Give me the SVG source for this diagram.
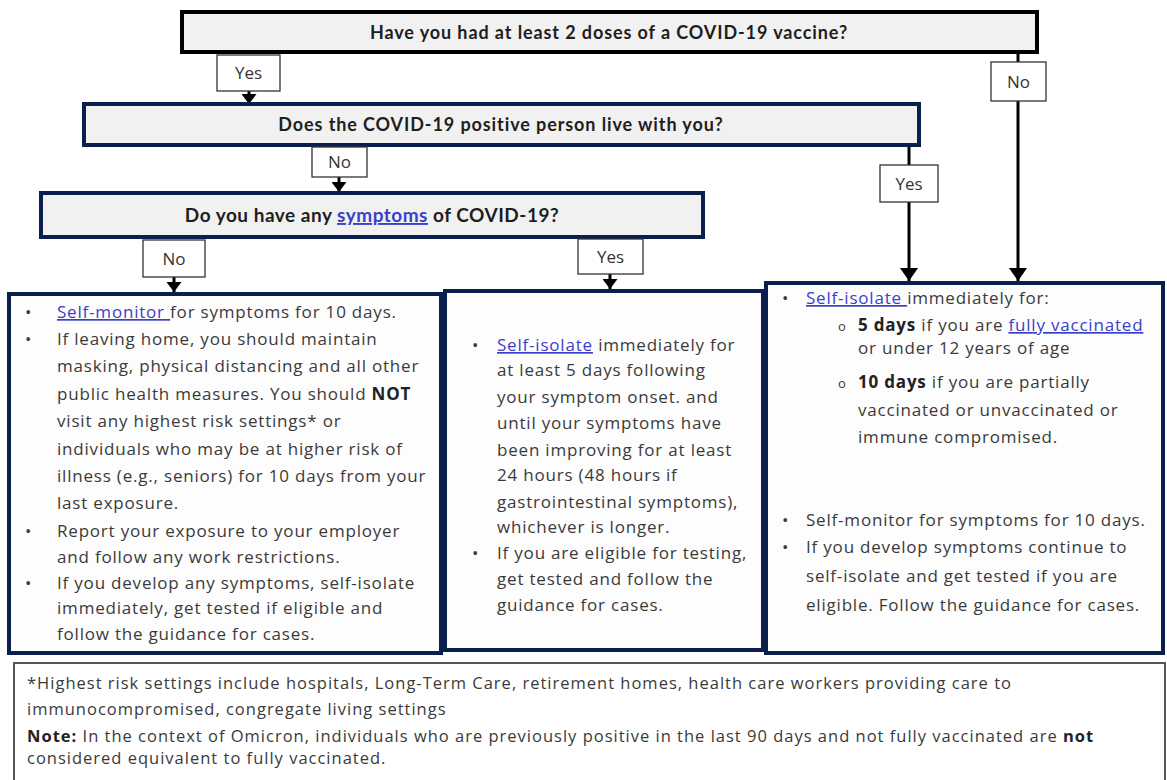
<svg xmlns="http://www.w3.org/2000/svg" width="1167" height="780" viewBox="0 0 1167 780">
<defs>
<style>
.q{fill:#f1f1f1;stroke:#0b1f4f;stroke-width:4}
.q1{fill:#f1f1f1;stroke:#000;stroke-width:4}
.qt{font-family:Lato,"Open Sans",sans-serif;font-weight:bold;font-size:18px;letter-spacing:0.9px;fill:#1e1e1e;text-anchor:middle}
.lab{fill:#fff;stroke:#333;stroke-width:1.3}
.lt{font-family:"Open Sans","Liberation Sans",sans-serif;font-size:17px;fill:#333;text-anchor:middle}
.res{fill:#fdfdfd;stroke:#0b1f4f;stroke-width:4}
.b{font-family:"Open Sans","Liberation Sans",sans-serif;font-size:17px;fill:#3a3a3a;letter-spacing:0.8px}
.f{font-family:"Open Sans","Liberation Sans",sans-serif;font-size:16.5px;fill:#3a3a3a;letter-spacing:1px}
.lk{fill:#3b40c8;text-decoration:underline}
.bd{font-weight:bold;fill:#222}
.ln{stroke:#000;stroke-width:3;fill:none}
</style>
<marker id="ah" markerUnits="userSpaceOnUse" markerWidth="14" markerHeight="18" refX="13" refY="9" orient="auto" viewBox="0 0 14 18">
<path d="M0,0 L13,9 L0,18 z" fill="#000"/>
</marker>
<marker id="ahs" markerUnits="userSpaceOnUse" markerWidth="11" markerHeight="15" refX="10" refY="7.5" orient="auto" viewBox="0 0 11 15">
<path d="M0,0 L10,7.5 L0,15 z" fill="#000"/>
</marker>
</defs>
<rect width="1167" height="780" fill="#fff"/>

<g id="connectors">
<line class="ln" x1="249" y1="91" x2="249" y2="104" marker-end="url(#ahs)"/>
<line class="ln" x1="1018" y1="52" x2="1018" y2="62"/>
<line class="ln" x1="1018" y1="101" x2="1018" y2="281" marker-end="url(#ah)"/>
<line class="ln" x1="339" y1="177" x2="339" y2="192" marker-end="url(#ahs)"/>
<line class="ln" x1="909" y1="145" x2="909" y2="165"/>
<line class="ln" x1="909" y1="202" x2="909" y2="281" marker-end="url(#ah)"/>
<line class="ln" x1="174" y1="277" x2="174" y2="292" marker-end="url(#ahs)"/>
<line class="ln" x1="610" y1="274" x2="610" y2="289" marker-end="url(#ahs)"/>
</g>

<g id="q1">
<rect class="q1" x="182" y="12" width="855" height="40"/>
<text class="qt" x="609" y="39">Have you had at least 2 doses of a COVID-19 vaccine?</text>
</g>
<g id="q2">
<rect class="q" x="84" y="104" width="835" height="41"/>
<text class="qt" x="501" y="131">Does the COVID-19 positive person live with you?</text>
</g>
<g id="q3">
<rect class="q" x="41" y="193" width="662" height="44"/>
<text class="qt" x="372" y="222" style="font-size:19px;letter-spacing:0.5px">Do you have any <tspan class="lk">symptoms</tspan> of COVID-19?</text>
</g>

<g id="lab-yes1"><rect class="lab" x="217" y="55" width="63" height="36"/><text class="lt" x="248.5" y="79">Yes</text></g>
<g id="lab-no1"><rect class="lab" x="991" y="62" width="55" height="39"/><text class="lt" x="1018.5" y="88">No</text></g>
<g id="lab-no2"><rect class="lab" x="312" y="147" width="55" height="30"/><text class="lt" x="339.5" y="168">No</text></g>
<g id="lab-yes2"><rect class="lab" x="880" y="165" width="58" height="37"/><text class="lt" x="909" y="190">Yes</text></g>
<g id="lab-no3"><rect class="lab" x="143" y="240" width="62" height="37"/><text class="lt" x="174" y="265">No</text></g>
<g id="lab-yes3"><rect class="lab" x="578" y="239" width="65" height="35"/><text class="lt" x="610.5" y="263">Yes</text></g>

<g id="resA">
<rect class="res" x="9" y="294" width="432" height="359"/>
<text class="b">
<tspan x="25" y="318">•</tspan><tspan x="57" y="318"><tspan class="lk">Self-monitor </tspan>for symptoms for 10 days.</tspan>
<tspan x="25" y="345">•</tspan><tspan x="57" y="345">If leaving home, you should maintain</tspan>
<tspan x="57" y="372">masking, physical distancing and all other</tspan>
<tspan x="57" y="400">public health measures. You should <tspan class="bd">NOT</tspan></tspan>
<tspan x="57" y="427">visit any highest risk settings* or</tspan>
<tspan x="57" y="455">individuals who may be at higher risk of</tspan>
<tspan x="57" y="482">illness (e.g., seniors) for 10 days from your</tspan>
<tspan x="57" y="509">last exposure.</tspan>
<tspan x="25" y="537">•</tspan><tspan x="57" y="537">Report your exposure to your employer</tspan>
<tspan x="57" y="563">and follow any work restrictions.</tspan>
<tspan x="25" y="589">•</tspan><tspan x="57" y="589">If you develop any symptoms, self-isolate</tspan>
<tspan x="57" y="614">immediately, get tested if eligible and</tspan>
<tspan x="57" y="640">follow the guidance for cases.</tspan>
</text>
</g>

<g id="resB">
<rect class="res" x="445" y="291" width="318" height="359"/>
<text class="b">
<tspan x="472" y="351">•</tspan><tspan x="497" y="351"><tspan class="lk">Self-isolate</tspan> immediately for</tspan>
<tspan x="497" y="376">at least 5 days following</tspan>
<tspan x="497" y="403">your symptom onset. and</tspan>
<tspan x="497" y="429">until your symptoms have</tspan>
<tspan x="497" y="456">been improving for at least</tspan>
<tspan x="497" y="481">24 hours (48 hours if</tspan>
<tspan x="497" y="508">gastrointestinal symptoms),</tspan>
<tspan x="497" y="533">whichever is longer.</tspan>
<tspan x="472" y="559">•</tspan><tspan x="497" y="559">If you are eligible for testing,</tspan>
<tspan x="497" y="585">get tested and follow the</tspan>
<tspan x="497" y="611">guidance for cases.</tspan>
</text>
</g>

<g id="resC">
<rect class="res" x="766" y="283" width="397" height="370"/>
<text class="b">
<tspan x="782" y="304">•</tspan><tspan x="806" y="304"><tspan class="lk">Self-isolate </tspan>immediately for:</tspan>
<tspan x="838" y="331" style="font-size:13px">o</tspan><tspan x="858" y="331"><tspan class="bd">5 days</tspan> if you are <tspan class="lk">fully vaccinated</tspan></tspan>
<tspan x="858" y="354">or under 12 years of age</tspan>
<tspan x="838" y="388" style="font-size:13px">o</tspan><tspan x="858" y="388"><tspan class="bd">10 days</tspan> if you are partially</tspan>
<tspan x="858" y="416">vaccinated or unvaccinated or</tspan>
<tspan x="858" y="443">immune compromised.</tspan>
<tspan x="782" y="526">•</tspan><tspan x="806" y="526">Self-monitor for symptoms for 10 days.</tspan>
<tspan x="782" y="553">•</tspan><tspan x="806" y="553">If you develop symptoms continue to</tspan>
<tspan x="806" y="582">self-isolate and get tested if you are</tspan>
<tspan x="806" y="611">eligible. Follow the guidance for cases.</tspan>
</text>
</g>

<g id="footer">
<rect x="14" y="663" width="1151" height="130" fill="#fff" stroke="#555" stroke-width="2"/>
<text class="f">
<tspan x="27" y="689">*Highest risk settings include hospitals, Long-Term Care, retirement homes, health care workers providing care to</tspan>
<tspan x="27" y="715">immunocompromised, congregate living settings</tspan>
<tspan x="27" y="742"><tspan class="bd">Note:</tspan> In the context of Omicron, individuals who are previously positive in the last 90 days and not fully vaccinated are <tspan class="bd">not</tspan></tspan>
<tspan x="27" y="764">considered equivalent to fully vaccinated.</tspan>
</text>
</g>
</svg>
